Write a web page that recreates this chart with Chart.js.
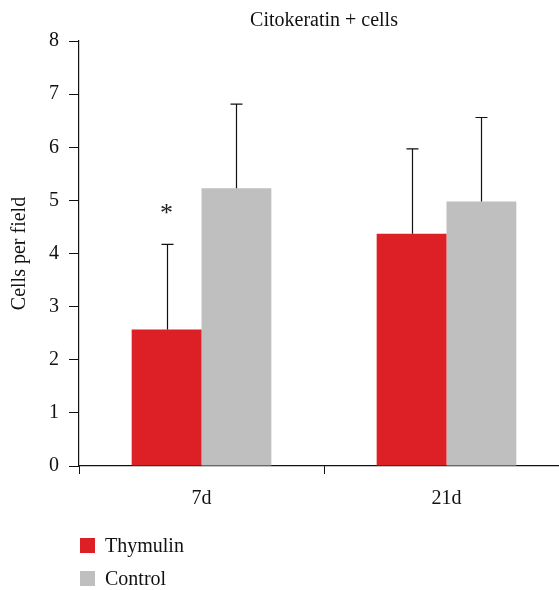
<!DOCTYPE html>
<html>
<head>
<meta charset="utf-8">
<script src="https://cdn.jsdelivr.net/npm/chart.js@4"></script>
<style>
  html, body { margin: 0; padding: 0; background: #fff; overflow: hidden; }
  canvas { display: block; }
</style>
</head>
<body>
<canvas id="chart" width="575" height="590"></canvas>
<script>
const days = ['7d', '21d'];
const thymulin = [2.57, 4.37];
const thymulinSd = [1.60, 1.60];
const control = [5.23, 4.98];
const controlSd = [1.58, 1.58];
const yTicks = [0, 1, 2, 3, 4, 5, 6, 7, 8];

const serif = '"Liberation Serif", "DejaVu Serif", serif';
const red = '#dd1f26';
const grey = '#bfbfbf';

// upward-only error bars with a short cap
const errorBars = {
  id: 'errorBars',
  afterDatasetsDraw(chart) {
    const ctx = chart.ctx;
    const y = chart.scales.y;
    const sds = [thymulinSd, controlSd];
    ctx.save();
    ctx.strokeStyle = '#111';
    ctx.lineWidth = 1.2;
    chart.data.datasets.forEach((ds, di) => {
      chart.getDatasetMeta(di).data.forEach((bar, i) => {
        const top = y.getPixelForValue(ds.data[i] + sds[di][i]);
        const x = Math.round(bar.x) + 0.5;
        ctx.beginPath();
        ctx.moveTo(x, bar.y);
        ctx.lineTo(x, top);
        ctx.moveTo(x - 6, top);
        ctx.lineTo(x + 6, top);
        ctx.stroke();
      });
    });
    // significance mark over the 7d thymulin bar
    const bar = chart.getDatasetMeta(0).data[0];
    ctx.fillStyle = '#222';
    ctx.font = '26px ' + serif;
    ctx.textAlign = 'center';
    ctx.textBaseline = 'middle';
    ctx.fillText('*', bar.x, y.getPixelForValue(4.81) + 4);
    ctx.restore();
  }
};

// title centred over the plot area, legend stacked under the axis
const decorations = {
  id: 'decorations',
  afterDraw(chart) {
    const ctx = chart.ctx;
    const area = chart.chartArea;
    ctx.save();
    ctx.fillStyle = '#111';
    ctx.font = '20px ' + serif;
    ctx.textAlign = 'center';
    ctx.textBaseline = 'alphabetic';
    ctx.fillText('Citokeratin + cells', (area.left + area.right) / 2, 26);

    ctx.textAlign = 'left';
    chart.data.datasets.forEach((ds, i) => {
      const top = 538 + i * 33;
      ctx.fillStyle = ds.backgroundColor;
      ctx.fillRect(80, top, 15, 15);
      ctx.fillStyle = '#111';
      ctx.fillText(ds.label, 105, top + 14);
    });
    ctx.restore();
  }
};

new Chart(document.getElementById('chart'), {
  type: 'bar',
  data: {
    labels: days,
    datasets: [
      { label: 'Thymulin', data: thymulin, backgroundColor: red },
      { label: 'Control', data: control, backgroundColor: grey }
    ]
  },
  options: {
    responsive: false,
    animation: false,
    events: [],
    categoryPercentage: 0.57,
    barPercentage: 1,
    layout: { padding: { top: 41, right: 6, bottom: 74, left: 0 } },
    plugins: {
      legend: { display: false },
      title: { display: false },
      tooltip: { enabled: false }
    },
    scales: {
      x: {
        grid: { drawOnChartArea: false, drawTicks: true, tickLength: 8, color: '#111', offset: true },
        border: { display: true, color: '#111', width: 1.2 },
        ticks: { color: '#111', font: { family: serif, size: 20 }, padding: 13 },
        afterFit(scale) { scale.height = 50; }
      },
      y: {
        min: 0,
        max: 8,
        afterBuildTicks(scale) { scale.ticks = yTicks.map(v => ({ value: v })); },
        grid: { drawOnChartArea: false, drawTicks: true, tickLength: 10, color: '#111' },
        border: { display: true, color: '#111', width: 1.2 },
        ticks: { color: '#111', font: { family: serif, size: 20 }, padding: 10 },
        title: { display: true, text: 'Cells per field', color: '#111', font: { family: serif, size: 20 }, padding: { top: 8, bottom: 0 } },
        afterFit(scale) { scale.width = 79; }
      }
    }
  },
  plugins: [errorBars, decorations]
});
</script>
</body>
</html>
